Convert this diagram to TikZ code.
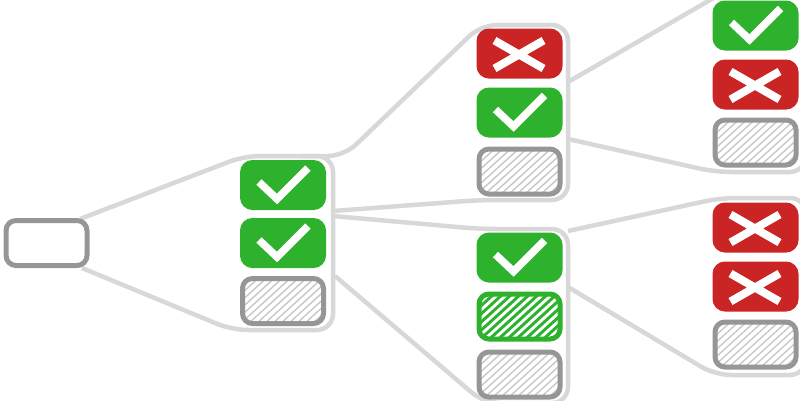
\documentclass[tikz,border=0pt]{standalone}
\definecolor{fgreen}{RGB}{46,178,46}
\definecolor{fred}{RGB}{202,36,36}
\definecolor{bgray}{RGB}{150,150,150}
\definecolor{lgray}{RGB}{216,216,216}
\definecolor{hgray}{RGB}{200,200,200}
\begin{document}
\begin{tikzpicture}[x=1pt,y=-1pt,
  box/.style={rectangle, rounded corners=10pt, minimum width=81pt, minimum height=45pt, line width=5pt, inner sep=0pt},
  emptybox/.style={box, draw=bgray, fill=white},
  hatchbox/.style={box, draw=bgray, fill=white,
    path picture={\foreach \i in {-66,-58,...,90} \draw[hgray, line width=1.4pt] ([xshift=\i pt]path picture bounding box.south west) -- ++(55pt,50pt);}},
  okbox/.style={box, draw=fgreen, fill=fgreen},
  nobox/.style={box, draw=fred, fill=fred},
  ghatchbox/.style={box, draw=fgreen, fill=fgreen,
    path picture={\foreach \i in {-66,-57,...,90} \draw[white, line width=2.8pt] ([xshift=\i pt]path picture bounding box.south west) -- ++(55pt,50pt);}},
  funnel/.style={draw=lgray, line width=4.5pt, rounded corners=16pt, line join=round},
  pics/okmark/.style={code={\draw[white, line width=7.5pt, line join=miter] (-24,-3) -- (-6,14) -- (25,-17);}},
  pics/nomark/.style={code={\draw[white, line width=8pt] (-25,-13) -- (24,15) (-25,15) -- (24,-13);}}
]
\useasboundingbox (0,0) rectangle (800,400);

% funnels
\draw[funnel] (80,219) -- (244,156) -- (333,156) -- (333,330) -- (232,330) -- (82,268);
\draw[funnel] (300,156) -- (344,156) -- (481,25) -- (568,25) -- (568,200) -- (480,200) -- (333,211);
\draw[funnel] (333,216) -- (480,229) -- (568,229) -- (568,403) -- (484,403) -- (335,276);
\draw[funnel] (568,82) -- (724,-8) -- (806,-8) -- (806,172) -- (715,172) -- (568,139);
\draw[funnel] (568,231) -- (720,198) -- (806,198) -- (806,375) -- (715,375) -- (568,287);

% root
\node[emptybox] (r) at (46.5,243) {};
% column 1
\node[okbox] (a1) at (283,185) {};
\node[okbox] (a2) at (283,243) {};
\node[hatchbox] (a3) at (283,301) {};
\pic at (a1) {okmark};
\pic at (a2) {okmark};
% column 2 top
\node[nobox] (b1) at (519.5,53.5) {};
\node[okbox] (b2) at (519.5,112.5) {};
\node[hatchbox] (b3) at (519.5,171.5) {};
\pic at (b1) {nomark};
\pic at (b2) {okmark};
% column 2 bottom
\node[okbox] (c1) at (519.5,257.5) {};
\node[ghatchbox] (c2) at (519.5,316.5) {};
\node[hatchbox] (c3) at (519.5,374.5) {};
\pic at (c1) {okmark};
% column 3 top
\node[okbox] (d1) at (755.5,25.5) {};
\node[nobox] (d2) at (755.5,84.5) {};
\node[hatchbox] (d3) at (755.5,142.5) {};
\pic at (d1) {okmark};
\pic at (d2) {nomark};
% column 3 bottom
\node[nobox] (e1) at (755.5,227.5) {};
\node[nobox] (e2) at (755.5,286.5) {};
\node[hatchbox] (e3) at (755.5,344.5) {};
\pic at (e1) {nomark};
\pic at (e2) {nomark};
\end{tikzpicture}
\end{document}
